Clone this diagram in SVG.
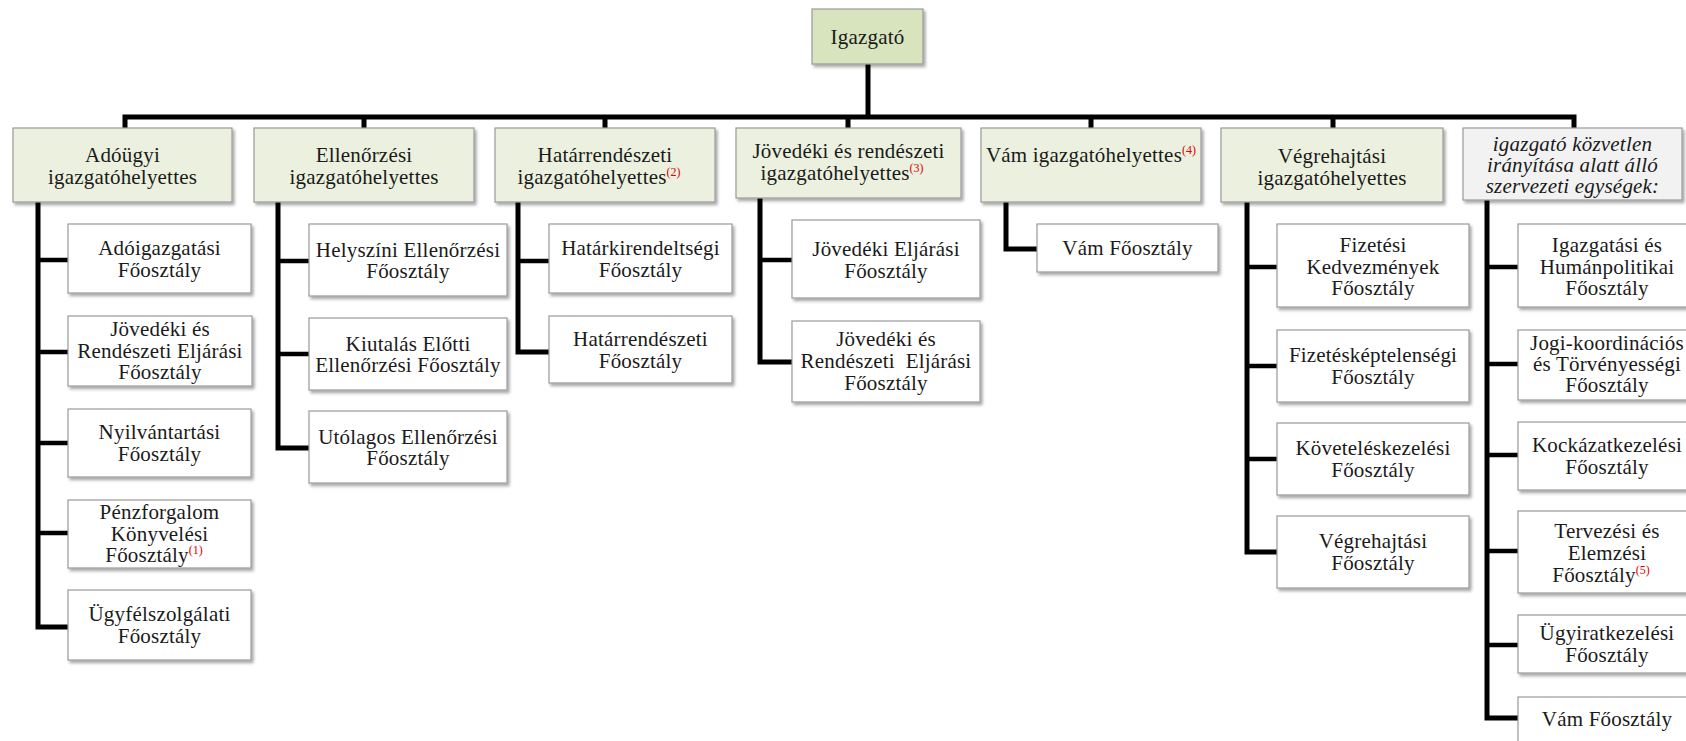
<svg xmlns="http://www.w3.org/2000/svg" width="1686" height="741" viewBox="0 0 1686 741">
<defs>
<filter id="sh" x="-10%" y="-10%" width="125%" height="130%">
<feDropShadow dx="2" dy="2.5" stdDeviation="1.5" flood-color="#000" flood-opacity="0.35"/>
</filter>
<style>
.box{fill:#ffffff;stroke:#9a9a9a;stroke-width:1.2;filter:url(#sh)}
.l1{fill:#ebf1de}
.top{fill:#d7e4bd}
.grey{fill:#f2f2f2}
text{font-family:'Liberation Serif','DejaVu Serif','Times New Roman',serif;font-size:21px;fill:#1a1a1a;text-anchor:middle;letter-spacing:0.2px}
.it{font-style:italic}
.sup{font-size:12px;fill:#e00000;letter-spacing:0}
.con{fill:none;stroke:#000;stroke-width:5;stroke-linejoin:miter;stroke-linecap:butt}
.br{fill:none;stroke:#000;stroke-width:4.5}
</style>
</defs>
<rect width="1686" height="741" fill="#ffffff"/>

<g id="connectors">
<path class="con" d="M868,64 V117"/>
<path class="con" d="M125,128 V117 H1574 V128"/>
<path class="con" d="M364,117 V128 M605,117 V128 M848,117 V128 M1091,117 V128 M1333,117 V128"/>
<path class="con" d="M38,202 V627 H68"/>
<path class="br" d="M38,260 H68 M38,352 H68 M38,443 H68 M38,533 H68"/>
<path class="con" d="M278,202 V448 H309"/>
<path class="br" d="M278,261 H309 M278,354 H309"/>
<path class="con" d="M518,202 V352 H549"/>
<path class="br" d="M518,261 H549"/>
<path class="con" d="M760,198 V362 H792"/>
<path class="br" d="M760,260 H792"/>
<path class="con" d="M1006,202 V249 H1037"/>
<path class="con" d="M1247,202 V552 H1277"/>
<path class="br" d="M1247,267 H1277 M1247,366 H1277 M1247,459 H1277"/>
<path class="con" d="M1487,200 V718 H1518"/>
<path class="br" d="M1487,267 H1518 M1487,364 H1518 M1487,455 H1518 M1487,551 H1518 M1487,645 H1518"/>
</g>

<g font-family="Liberation Serif, DejaVu Serif, serif">
<g id="igazgato">
<rect class="box top" x="812" y="9" width="111" height="55"/>
<text x="867.5" y="44">Igazgató</text>
</g>

<g id="adougyi">
<rect class="box l1" x="13" y="128" width="219" height="74"/>
<text x="122.5" y="162">Adóügyi</text>
<text x="122.5" y="184">igazgatóhelyettes</text>
</g>
<g id="ellenorzesi">
<rect class="box l1" x="254" y="128" width="220" height="74"/>
<text x="364" y="162">Ellenőrzési</text>
<text x="364" y="184">igazgatóhelyettes</text>
</g>
<g id="hatarrendeszeti">
<rect class="box l1" x="495" y="128" width="220" height="74"/>
<text x="605" y="162">Határrendészeti</text>
<text x="599" y="184">igazgatóhelyettes<tspan class="sup" dy="-8">(2)</tspan></text>
</g>
<g id="jovedeki">
<rect class="box l1" x="736" y="128" width="225" height="70"/>
<text x="848.5" y="158">Jövedéki és rendészeti</text>
<text x="842" y="180">igazgatóhelyettes<tspan class="sup" dy="-8">(3)</tspan></text>
</g>
<g id="vam">
<rect class="box l1" x="981" y="128" width="220" height="74"/>
<text x="1091" y="162">Vám igazgatóhelyettes<tspan class="sup" dy="-8">(4)</tspan></text>
</g>
<g id="vegrehajtasi">
<rect class="box l1" x="1221" y="128" width="222" height="74"/>
<text x="1332" y="163">Végrehajtási</text>
<text x="1332" y="185">igazgatóhelyettes</text>
</g>
<g id="kozvetlen">
<rect class="box grey" x="1463" y="128" width="219" height="72"/>
<text class="it" x="1572.5" y="151">igazgató közvetlen</text>
<text class="it" x="1572.5" y="172">irányítása alatt álló</text>
<text class="it" x="1572.5" y="193">szervezeti egységek:</text>
</g>

<g id="adoigazgatasi">
<rect class="box" x="68" y="224" width="183" height="69"/>
<text x="159.5" y="255">Adóigazgatási</text>
<text x="159.5" y="277">Főosztály</text>
</g>
<g id="jov-rend-eljarasi">
<rect class="box" x="68" y="316" width="184" height="70"/>
<text x="160" y="336">Jövedéki és</text>
<text x="160" y="358">Rendészeti Eljárási</text>
<text x="160" y="379">Főosztály</text>
</g>
<g id="nyilvantartasi">
<rect class="box" x="68" y="409" width="183" height="68"/>
<text x="159.5" y="439">Nyilvántartási</text>
<text x="159.5" y="461">Főosztály</text>
</g>
<g id="penzforgalom">
<rect class="box" x="68" y="500" width="183" height="68"/>
<text x="159.5" y="519">Pénzforgalom</text>
<text x="159.5" y="541">Könyvelési</text>
<text x="154" y="562">Főosztály<tspan class="sup" dy="-8">(1)</tspan></text>
</g>
<g id="ugyfelszolgalati">
<rect class="box" x="68" y="590" width="183" height="70"/>
<text x="159.5" y="621">Ügyfélszolgálati</text>
<text x="159.5" y="643">Főosztály</text>
</g>

<g id="helyszini">
<rect class="box" x="309" y="224" width="198" height="72"/>
<text x="408" y="257">Helyszíni Ellenőrzési</text>
<text x="408" y="278">Főosztály</text>
</g>
<g id="kiutalas">
<rect class="box" x="309" y="318" width="198" height="72"/>
<text x="408" y="351">Kiutalás Előtti</text>
<text x="408" y="372">Ellenőrzési Főosztály</text>
</g>
<g id="utolagos">
<rect class="box" x="309" y="411" width="198" height="72"/>
<text x="408" y="444">Utólagos Ellenőrzési</text>
<text x="408" y="465">Főosztály</text>
</g>

<g id="hatarkirendeltsegi">
<rect class="box" x="549" y="224" width="183" height="69"/>
<text x="640.5" y="255">Határkirendeltségi</text>
<text x="640.5" y="277">Főosztály</text>
</g>
<g id="hatarrendeszeti-fo">
<rect class="box" x="549" y="316" width="183" height="67"/>
<text x="640.5" y="346">Határrendészeti</text>
<text x="640.5" y="368">Főosztály</text>
</g>

<g id="jovedeki-eljarasi">
<rect class="box" x="792" y="220" width="188" height="78"/>
<text x="886" y="256">Jövedéki Eljárási</text>
<text x="886" y="278">Főosztály</text>
</g>
<g id="jovedeki-rend-eljarasi">
<rect class="box" x="792" y="321" width="188" height="81"/>
<text x="886" y="346">Jövedéki és</text>
<text x="886" y="368" xml:space="preserve">Rendészeti  Eljárási</text>
<text x="886" y="390">Főosztály</text>
</g>

<g id="vam-fo">
<rect class="box" x="1037" y="224" width="181" height="48"/>
<text x="1127.5" y="255">Vám Főosztály</text>
</g>

<g id="fizetesi-kedvezmenyek">
<rect class="box" x="1277" y="224" width="192" height="83"/>
<text x="1373" y="252">Fizetési</text>
<text x="1373" y="274">Kedvezmények</text>
<text x="1373" y="295">Főosztály</text>
</g>
<g id="fizeteskeptelensegi">
<rect class="box" x="1277" y="330" width="192" height="72"/>
<text x="1373" y="362">Fizetésképtelenségi</text>
<text x="1373" y="384">Főosztály</text>
</g>
<g id="kovetelesk">
<rect class="box" x="1277" y="423" width="192" height="72"/>
<text x="1373" y="455">Követeléskezelési</text>
<text x="1373" y="477">Főosztály</text>
</g>
<g id="vegrehajtasi-fo">
<rect class="box" x="1277" y="516" width="192" height="72"/>
<text x="1373" y="548">Végrehajtási</text>
<text x="1373" y="570">Főosztály</text>
</g>

<g id="igazgatasi-human">
<rect class="box" x="1518" y="224" width="178" height="83"/>
<text x="1607" y="252">Igazgatási és</text>
<text x="1607" y="274">Humánpolitikai</text>
<text x="1607" y="295">Főosztály</text>
</g>
<g id="jogi-koord">
<rect class="box" x="1518" y="330" width="178" height="70"/>
<text x="1607" y="350">Jogi-koordinációs</text>
<text x="1607" y="371">és Törvényességi</text>
<text x="1607" y="392">Főosztály</text>
</g>
<g id="kockazatkezelesi">
<rect class="box" x="1518" y="422" width="178" height="68"/>
<text x="1607" y="452">Kockázatkezelési</text>
<text x="1607" y="474">Főosztály</text>
</g>
<g id="tervezesi">
<rect class="box" x="1518" y="511" width="178" height="82"/>
<text x="1607" y="538">Tervezési és</text>
<text x="1607" y="560">Elemzési</text>
<text x="1601" y="582">Főosztály<tspan class="sup" dy="-8">(5)</tspan></text>
</g>
<g id="ugyiratkezelesi">
<rect class="box" x="1518" y="615" width="178" height="58"/>
<text x="1607" y="640">Ügyiratkezelési</text>
<text x="1607" y="662">Főosztály</text>
</g>
<g id="vam-fo-2">
<rect class="box" x="1518" y="697" width="178" height="50"/>
<text x="1607" y="726">Vám Főosztály</text>
</g>
</g>
</svg>
